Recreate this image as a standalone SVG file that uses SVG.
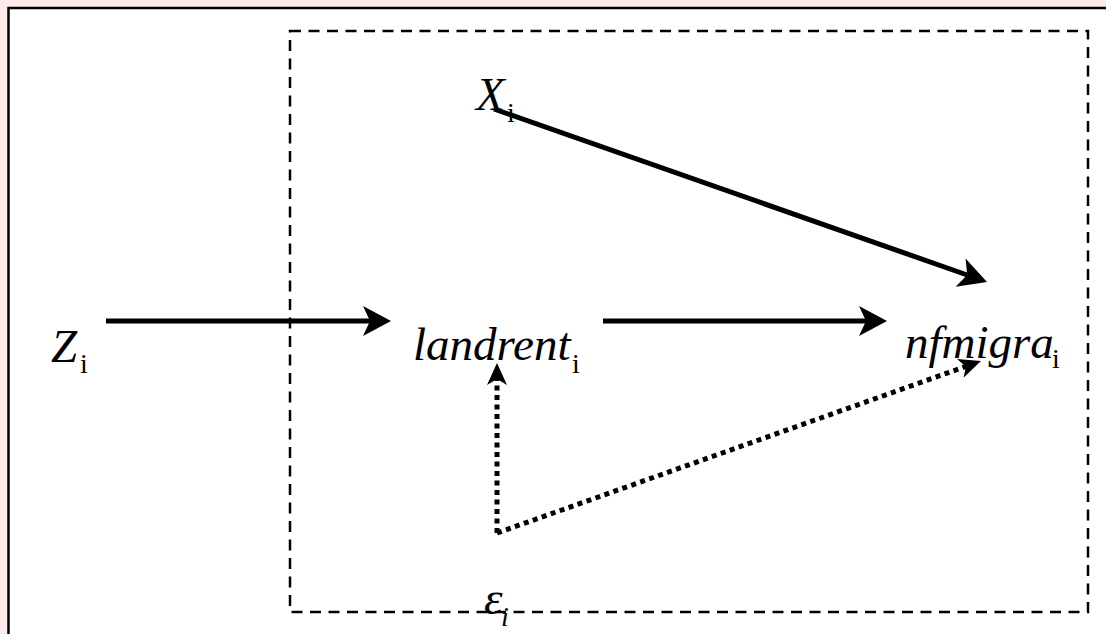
<svg xmlns="http://www.w3.org/2000/svg" width="1106" height="634" viewBox="0 0 1106 634">
<style>
.t{font-family:"Liberation Serif","Times New Roman",serif;font-style:italic;font-size:47px;fill:#000}
.s{font-family:"Liberation Serif","Times New Roman",serif;font-size:28px;fill:#000}
.si{font-family:"Liberation Serif","Times New Roman",serif;font-style:italic;font-size:28px;fill:#000}
.solid{stroke:#000;stroke-width:5;fill:none;marker-end:url(#big)}
.dot{stroke:#000;stroke-width:5;fill:none;stroke-dasharray:5 4.5;marker-end:url(#small)}
</style>
<defs>
<marker id="big" markerUnits="userSpaceOnUse" markerWidth="40" markerHeight="40" refX="7" refY="15" orient="auto" overflow="visible">
<path d="M0,0 L28,15 L0,30 L7,15 Z" fill="#000"/>
</marker>
<marker id="small" markerUnits="userSpaceOnUse" markerWidth="30" markerHeight="30" refX="6" refY="10" orient="auto" overflow="visible">
<path d="M0,0 L22,10 L0,20 L6,10 Z" fill="#000"/>
</marker>
</defs>
<rect x="0" y="0" width="1106" height="634" fill="#fdeaea"/>
<rect x="8.5" y="8" width="1120" height="640" fill="#fff" stroke="#000" stroke-width="2.5"/>
<rect id="boundary" x="290" y="31" width="798" height="581" fill="none" stroke="#000" stroke-width="2.5" stroke-dasharray="11 7.5"/>
<g id="connectors">
<line class="solid" x1="106" y1="321" x2="370" y2="321"/>
<line class="solid" x1="603" y1="321" x2="866" y2="321"/>
<line class="solid" x1="494" y1="109" x2="967.2" y2="275"/>
<line class="dot" x1="497" y1="533" x2="497" y2="379"/>
<line class="dot" x1="497" y1="533" x2="965.9" y2="366.4"/>
</g>
<g id="node-Z"><text class="t" x="51" y="362">Z</text><text class="s" x="80" y="373">i</text></g>
<g id="node-X"><text class="t" x="476" y="110">X</text><text class="s" x="507" y="122">i</text></g>
<g id="node-landrent"><text class="t" x="413" y="360">landrent</text><text class="s" x="572" y="373">i</text></g>
<g id="node-nfmigra"><text class="t" x="905" y="358">nfmigra</text><text class="s" x="1052" y="368">i</text></g>
<g id="node-epsilon"><text class="t" x="484" y="614">ε</text><text class="si" x="501" y="626">i</text></g>
</svg>
